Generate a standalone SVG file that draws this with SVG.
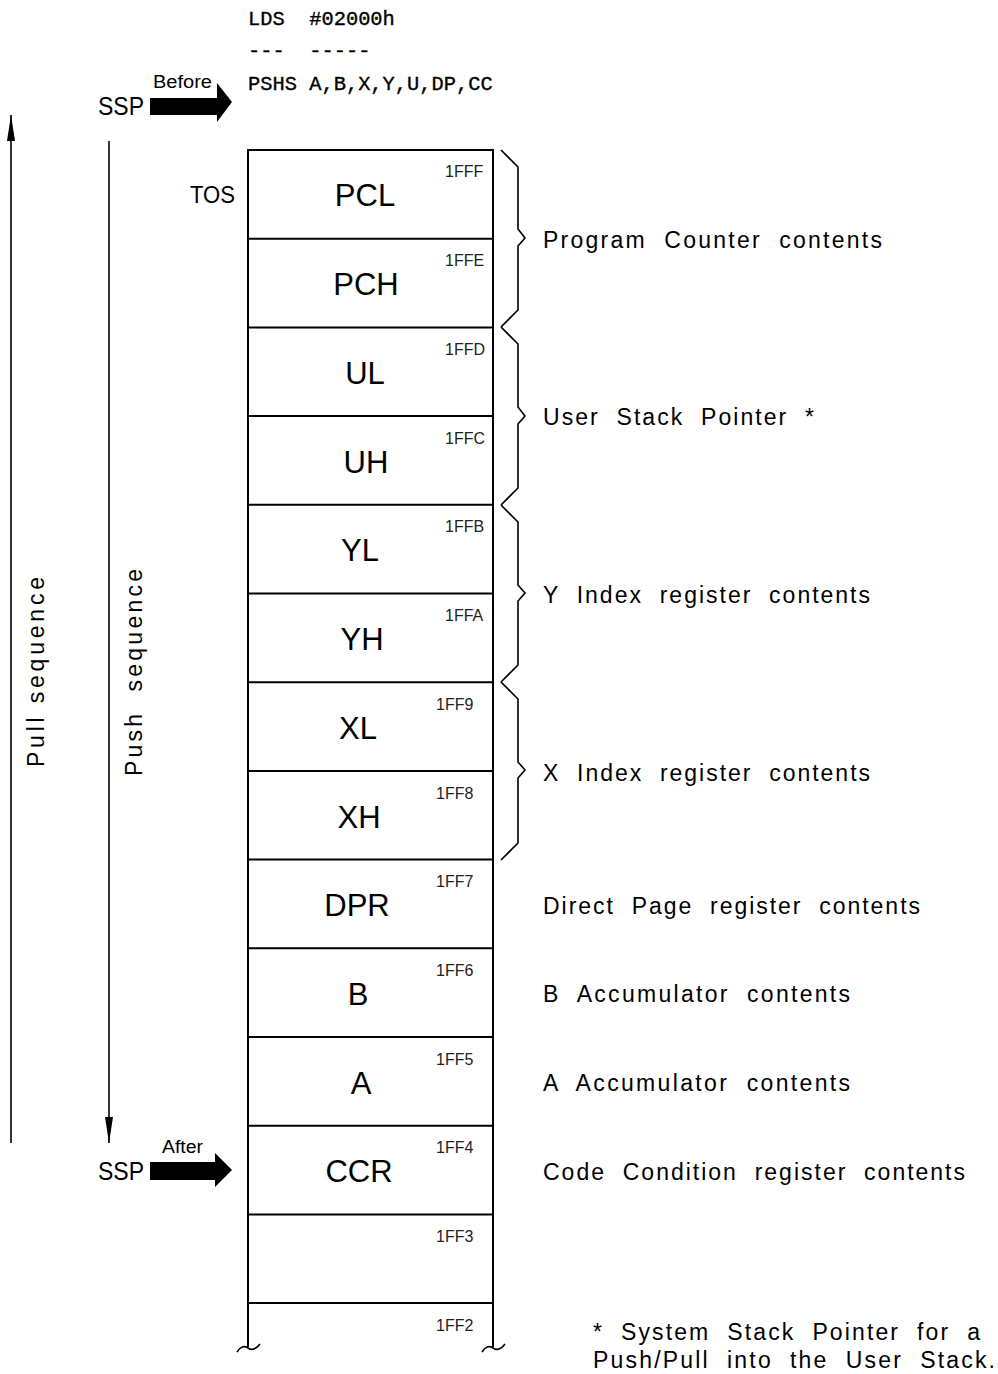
<svg xmlns="http://www.w3.org/2000/svg" width="998" height="1374" viewBox="0 0 998 1374">
  <style>
    .frame { fill: none; stroke: #000; stroke-width: 2; }
    .thin { fill: none; stroke: #000; stroke-width: 1.6; }
    .cell { font-family: "Liberation Sans", Arial, sans-serif; font-size: 31px; fill: #000; text-anchor: middle; }
    .addr { font-family: "Liberation Sans", Arial, sans-serif; font-size: 16px; fill: #222; }
    .desc { font-family: "Liberation Sans", Arial, sans-serif; font-size: 23px; fill: #000; }
    .code { font-family: "Liberation Mono", "Courier New", monospace; font-size: 20.4px; fill: #000; stroke: #000; stroke-width: 0.35; }
    .lbl { font-family: "Liberation Sans", Arial, sans-serif; fill: #000; }
  </style>
  <defs>
    <marker id="tri" viewBox="0 0 26 8" refX="26" refY="4" markerWidth="26" markerHeight="8" markerUnits="userSpaceOnUse" orient="auto">
      <path d="M0,0 L26,4 L0,8 Z" fill="#000"/>
    </marker>
  </defs>
  <rect width="998" height="1374" fill="#fff"/>

  <!-- instruction listing -->
  <g id="code">
    <text class="code" x="248" y="25" xml:space="preserve">LDS  #02000h</text>
    <text class="code" x="248" y="57" xml:space="preserve">---  -----</text>
    <text class="code" x="248" y="90">PSHS A,B,X,Y,U,DP,CC</text>
  </g>

  <!-- stack pointer markers -->
  <g id="ssp-before">
    <text class="lbl" x="98" y="115" font-size="26" textLength="46" lengthAdjust="spacingAndGlyphs">SSP</text>
    <text class="lbl" x="153" y="88" font-size="18" textLength="59" lengthAdjust="spacingAndGlyphs">Before</text>
    <path d="M150,98 H217 V83 L232,102 L217,122 V115 H150 Z" fill="#000"/>
  </g>
  <g id="ssp-after">
    <text class="lbl" x="98" y="1180" font-size="26" textLength="46" lengthAdjust="spacingAndGlyphs">SSP</text>
    <text class="lbl" x="162" y="1153" font-size="18" textLength="41" lengthAdjust="spacingAndGlyphs">After</text>
    <path d="M150,1162 H215 V1153 L232,1170 L215,1187 V1180 H150 Z" fill="#000"/>
  </g>
  <g id="tos">
    <text class="lbl" x="190" y="203" font-size="24" textLength="45" lengthAdjust="spacingAndGlyphs">TOS</text>
  </g>

  <!-- sequence arrows -->
  <g id="connectors">
    <line class="thin" x1="11" y1="1143" x2="11" y2="115" marker-end="url(#tri)"/>
    <line class="thin" x1="109" y1="141" x2="109" y2="1143" marker-end="url(#tri)"/>
  </g>
  <text class="lbl" font-size="23" transform="translate(44,767) rotate(-90)" textLength="190" lengthAdjust="spacing">Pull sequence</text>
  <text class="lbl" font-size="23" transform="translate(142,776) rotate(-90)" textLength="207" lengthAdjust="spacing" xml:space="preserve">Push  sequence</text>

  <!-- stack frame -->
  <g id="stack">
    <path class="frame" d="M248,1347 V150 H493 V1347"/>
    <path class="frame" d="M248,238.7 H493 M248,327.4 H493 M248,416.1 H493 M248,504.8 H493 M248,593.5 H493 M248,682.2 H493 M248,770.9 H493 M248,859.6 H493 M248,948.3 H493 M248,1037 H493 M248,1125.7 H493 M248,1214.4 H493 M248,1303 H493"/>
    <path class="thin" d="M237,1352 Q242,1344 248,1348 Q254,1352 260,1344"/>
    <path class="thin" d="M482,1352 Q487,1344 493,1348 Q499,1352 505,1344"/>
  </g>

  <g id="cell-1FFF"><text class="cell" x="365" y="206">PCL</text><text class="addr" x="445" y="177">1FFF</text></g>
  <g id="cell-1FFE"><text class="cell" x="366" y="295">PCH</text><text class="addr" x="445" y="266">1FFE</text></g>
  <g id="cell-1FFD"><text class="cell" x="365" y="384">UL</text><text class="addr" x="445" y="355">1FFD</text></g>
  <g id="cell-1FFC"><text class="cell" x="366" y="473">UH</text><text class="addr" x="445" y="444">1FFC</text></g>
  <g id="cell-1FFB"><text class="cell" x="360" y="561">YL</text><text class="addr" x="445" y="532">1FFB</text></g>
  <g id="cell-1FFA"><text class="cell" x="362" y="650">YH</text><text class="addr" x="445" y="621">1FFA</text></g>
  <g id="cell-1FF9"><text class="cell" x="358" y="739">XL</text><text class="addr" x="436" y="710">1FF9</text></g>
  <g id="cell-1FF8"><text class="cell" x="359" y="828">XH</text><text class="addr" x="436" y="799">1FF8</text></g>
  <g id="cell-1FF7"><text class="cell" x="357" y="916">DPR</text><text class="addr" x="436" y="887">1FF7</text></g>
  <g id="cell-1FF6"><text class="cell" x="358" y="1005">B</text><text class="addr" x="436" y="976">1FF6</text></g>
  <g id="cell-1FF5"><text class="cell" x="361" y="1094">A</text><text class="addr" x="436" y="1065">1FF5</text></g>
  <g id="cell-1FF4"><text class="cell" x="359" y="1182">CCR</text><text class="addr" x="436" y="1153">1FF4</text></g>
  <g id="cell-1FF3"><text class="addr" x="436" y="1242">1FF3</text></g>
  <g id="cell-1FF2"><text class="addr" x="436" y="1331">1FF2</text></g>

  <!-- braces grouping register pairs -->
  <g id="braces">
    <path class="thin" d="M501,150 L518,167 V229 L525,238 L518,246 V310 L501,327"/>
    <path class="thin" d="M501,327 L518,344 V407 L525,416 L518,424 V488 L501,505"/>
    <path class="thin" d="M501,505 L518,522 V585 L525,593 L518,601 V665 L501,682"/>
    <path class="thin" d="M501,682 L518,699 V762 L525,770 L518,778 V843 L501,860"/>
  </g>

  <!-- descriptions -->
  <g id="descriptions">
    <text class="desc" x="543" y="248" textLength="339" lengthAdjust="spacing" xml:space="preserve">Program  Counter  contents</text>
    <text class="desc" x="543" y="425" textLength="271" lengthAdjust="spacing" xml:space="preserve">User  Stack  Pointer  *</text>
    <text class="desc" x="543" y="603" textLength="327" lengthAdjust="spacing" xml:space="preserve">Y  Index  register  contents</text>
    <text class="desc" x="543" y="781" textLength="327" lengthAdjust="spacing" xml:space="preserve">X  Index  register  contents</text>
    <text class="desc" x="543" y="914" textLength="377" lengthAdjust="spacing" xml:space="preserve">Direct  Page  register  contents</text>
    <text class="desc" x="543" y="1002" textLength="307" lengthAdjust="spacing" xml:space="preserve">B  Accumulator  contents</text>
    <text class="desc" x="543" y="1091" textLength="307" lengthAdjust="spacing" xml:space="preserve">A  Accumulator  contents</text>
    <text class="desc" x="543" y="1180" textLength="422" lengthAdjust="spacing" xml:space="preserve">Code  Condition  register  contents</text>
    <text class="desc" x="593" y="1340" textLength="387" lengthAdjust="spacing" xml:space="preserve">*  System  Stack  Pointer  for  a</text>
    <text class="desc" x="593" y="1368" textLength="402" lengthAdjust="spacing" xml:space="preserve">Push/Pull  into  the  User  Stack.</text>
  </g>
</svg>
